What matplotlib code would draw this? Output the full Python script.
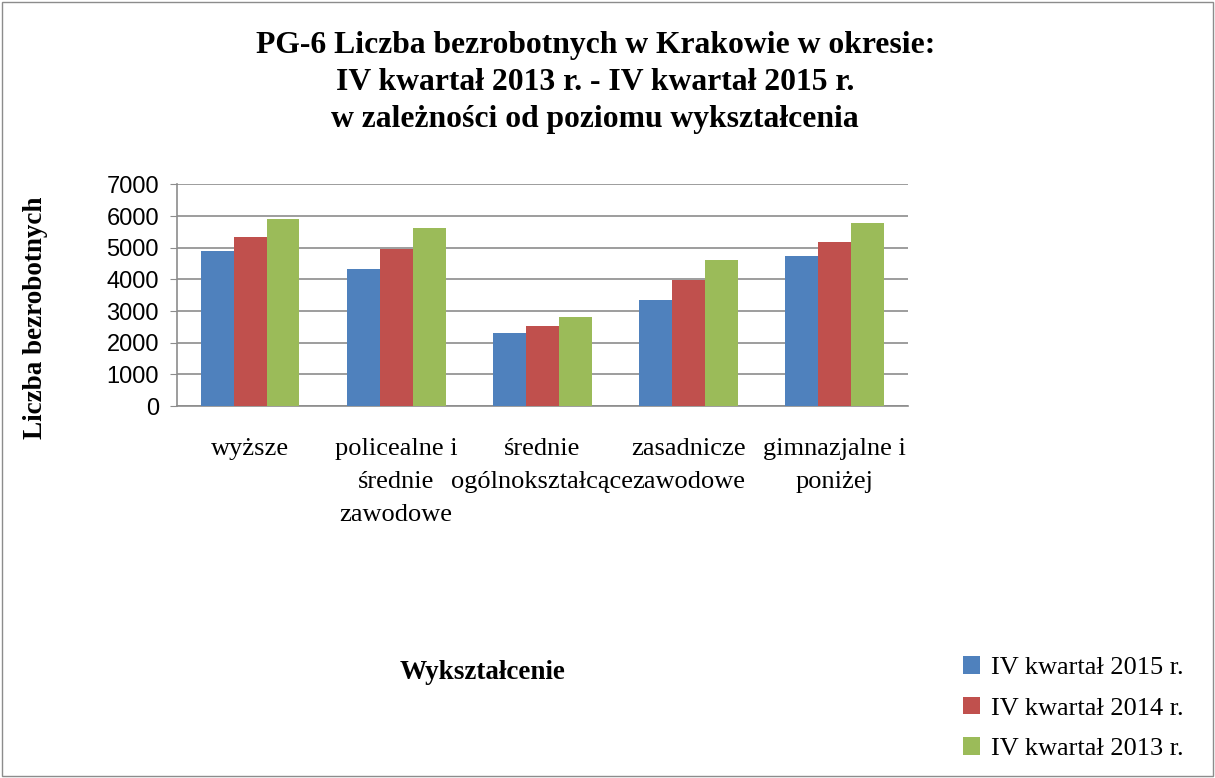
import numpy as np
import matplotlib.pyplot as plt
from matplotlib.patches import Rectangle

kategorie = ['wyższe', 'policealne i\nśrednie\nzawodowe', 'średnie\nogólnokształcące',
             'zasadnicze\nzawodowe', 'gimnazjalne i\nponiżej']
serie = ['IV kwartał 2015 r.', 'IV kwartał 2014 r.', 'IV kwartał 2013 r.']
r2015 = [4890, 4320, 2300, 3340, 4730]
r2014 = [5330, 4950, 2530, 3985, 5175]
r2013 = [5900, 5615, 2810, 4610, 5775]
kolory = ['#4F81BD', '#C0504D', '#9BBB59']
yticks = [0, 1000, 2000, 3000, 4000, 5000, 6000, 7000]

serif = 'Liberation Serif'

fig = plt.figure(figsize=(12.15, 7.78), dpi=100)
ax = fig.add_axes([0.1457, 0.478, 0.6013, 0.285])

x = np.arange(len(kategorie))
w = 0.225
for i, (dane, kol, lab) in enumerate(zip([r2015, r2014, r2013], kolory, serie)):
    ax.bar(x + (i - 1) * w, dane, width=w, color=kol, label=lab, zorder=3)

ax.set_xlim(-0.5, len(kategorie) - 0.5)
ax.set_ylim(0, 7000)
ax.set_yticks(yticks)
ax.set_yticklabels([str(v) for v in yticks], fontfamily='Liberation Sans', fontsize=17)
ax.yaxis.grid(True, color='#8c8c8c', linewidth=1.2, zorder=0)
ax.set_xticks(x)
ax.set_xticklabels(kategorie, fontfamily=serif, fontsize=19, linespacing=1.65)
ax.tick_params(axis='x', length=0, pad=23)
ax.tick_params(axis='y', length=5, color='#8c8c8c', pad=8)
for s in ['top', 'right']:
    ax.spines[s].set_visible(False)
ax.spines['left'].set_color('#8c8c8c')
ax.spines['bottom'].set_color('#8c8c8c')
ax.spines['left'].set_linewidth(1.2)
ax.spines['bottom'].set_linewidth(1.2)

fig.text(0.49, 0.960, 'PG-6 Liczba bezrobotnych w Krakowie w okresie:\nIV kwartał 2013 r. - IV kwartał 2015 r.\nw zależności od poziomu wykształcenia',
         ha='center', va='top', fontfamily=serif, fontweight='bold', fontsize=22.8, linespacing=1.36)
fig.text(0.029, 0.592, 'Liczba bezrobotnych', rotation=90, ha='center', va='center',
         fontfamily=serif, fontweight='bold', fontsize=19.5)
fig.text(0.397, 0.136, 'Wykształcenie', ha='center', va='center',
         fontfamily=serif, fontweight='bold', fontsize=19.5)

leg = fig.legend(loc='upper left', bbox_to_anchor=(0.7926, 0.1565), frameon=False,
                 prop={'family': serif, 'size': 19}, handlelength=0.65, handleheight=0.65,
                 handletextpad=0.4, labelspacing=0.66, borderpad=0, borderaxespad=0)

fig.patches.append(Rectangle((0.002, 0.002), 0.996, 0.996, transform=fig.transFigure,
                             fill=False, edgecolor='#8c8c8c', linewidth=1))

fig.savefig('out.png', dpi=100)
